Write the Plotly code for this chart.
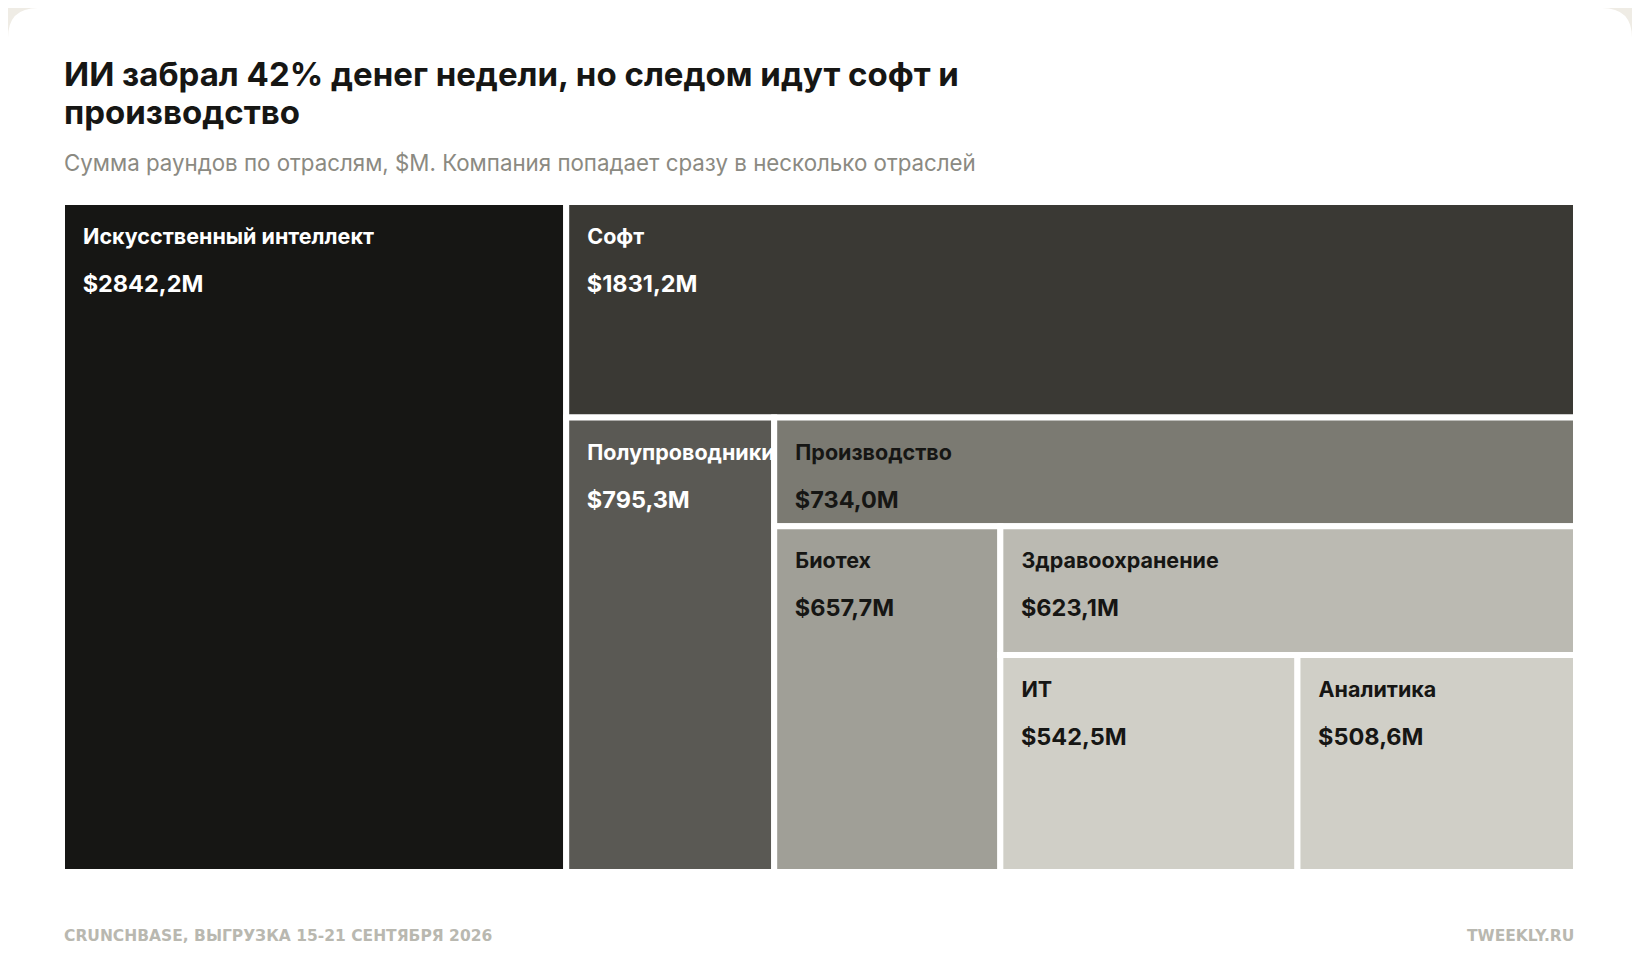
import plotly.graph_objects as go

# Data: sum of funding rounds by industry, $M
categories = [
    "Искусственный интеллект",
    "Софт",
    "Полупроводники",
    "Производство",
    "Биотех",
    "Здравоохранение",
    "ИТ",
    "Аналитика",
]
amounts = [2842.2, 1831.2, 795.3, 734.0, 657.7, 623.1, 542.5, 508.6]

tile_colors = ["#161614", "#3a3934", "#5a5954", "#7b7a72",
               "#a09f97", "#bbbab2", "#d0cfc7", "#d0cfc7"]
text_colors = ["#ffffff", "#ffffff", "#ffffff", "#161614",
               "#161614", "#161614", "#161614", "#161614"]

# the page body has an 8px margin, so the figure is 16px smaller than the window
W, H = 1624, 952
M = dict(l=54, r=56, t=194, b=88)
PW = W - M["l"] - M["r"]
PH = H - M["t"] - M["b"]


def px(x):
    return (x - M["l"]) / PW


def py(y):
    return (H - M["b"] - y) / PH


# nested groups so that dice/slice alternates like the reference:
# AI | (Soft / (Semis | (Production / (Biotech | (Health / (IT | Analytics))))))
ids, parents, values, texts, colors, tcolors, lwidths = [], [], [], [], [], [], []
n = len(categories)
parent = ""
for i, (cat, amt) in enumerate(zip(categories, amounts)):
    ids.append(cat)
    parents.append(parent)
    values.append(amt)
    amt_s = f"{amt:.1f}".replace(".", ",")
    texts.append(
        "<span style='font-size:15px'>\u00a0</span><br>"
        f"<span style='font-size:21.5px'>\u2002\u2005\u200a<b>{cat}</b></span><br><br>"
        f"<span style='font-size:23.5px'>\u2002\u2005<b>${amt_s}M</b></span>"
    )
    colors.append(tile_colors[i])
    tcolors.append(text_colors[i])
    lwidths.append(6)
    if i < n - 2:
        gid = f"g{i + 1}"
        ids.append(gid)
        parents.append(parent)
        values.append(0)
        texts.append("")
        colors.append("rgba(0,0,0,0)")
        tcolors.append("#ffffff")
        lwidths.append(0)
        parent = gid

fig = go.Figure(
    go.Treemap(
        ids=ids,
        labels=ids,
        parents=parents,
        values=values,
        branchvalues="remainder",
        text=texts,
        textinfo="text",
        textposition="top left",
        textfont=dict(family="Inter", size=18.5, color=tcolors),
        marker=dict(
            colors=colors,
            line=dict(color="#ffffff", width=lwidths),
            pad=dict(t=0, l=0, r=0, b=0),
            depthfade=False,
        ),
        tiling=dict(packing="slice-dice", pad=0),
        pathbar=dict(visible=False),
        sort=False,
        hoverinfo="skip",
    )
)

# white card with rounded top corners on a beige page
R = 30
rx, ry = R / PW, R / PH
x0, x1 = px(0), px(W)
y0, y1 = py(H + 20), py(0)
card = (
    f"M {x0},{y0} L {x0},{y1 - ry} Q {x0},{y1} {x0 + rx},{y1} "
    f"L {x1 - rx},{y1} Q {x1},{y1} {x1},{y1 - ry} L {x1},{y0} Z"
)

title_lines = ["ИИ забрал 42% денег недели, но следом идут софт и", "производство"]
title = "<br>".join(f"<span style='font-size:33px'><b>{t}</b></span>" for t in title_lines)

fig.update_layout(
    width=W,
    height=H,
    margin=M,
    paper_bgcolor="#efece5",
    plot_bgcolor="#ffffff",
    uniformtext=dict(minsize=18.5, mode="show"),
    font=dict(family="Inter"),
    shapes=[dict(type="path", path=card, xref="paper", yref="paper",
                 fillcolor="#ffffff", line=dict(width=0), layer="below")],
    annotations=[
        dict(text=title,
             x=px(54), y=py(85), xref="paper", yref="paper", xanchor="left", yanchor="middle",
             align="left", showarrow=False,
             font=dict(family="Inter", size=29.5, color="#161614")),
        dict(text="Сумма раундов по отраслям, $M. Компания попадает сразу в несколько отраслей",
             x=px(54), y=py(154), xref="paper", yref="paper", xanchor="left", yanchor="middle",
             showarrow=False, font=dict(family="Inter", size=22.3, color="#8b8a82")),
        dict(text="<b>CRUNCHBASE, ВЫГРУЗКА 15-21 СЕНТЯБРЯ 2026</b>",
             x=px(54), y=py(928), xref="paper", yref="paper", xanchor="left", yanchor="middle",
             showarrow=False, font=dict(family="DejaVu Sans", size=15.5, color="#b9b8b0")),
        dict(text="<b>TWEEKLY.RU</b>",
             x=px(1568), y=py(928), xref="paper", yref="paper", xanchor="right", yanchor="middle",
             showarrow=False, font=dict(family="DejaVu Sans", size=15.5, color="#b9b8b0")),
    ],
)

fig.write_html("out.html")
